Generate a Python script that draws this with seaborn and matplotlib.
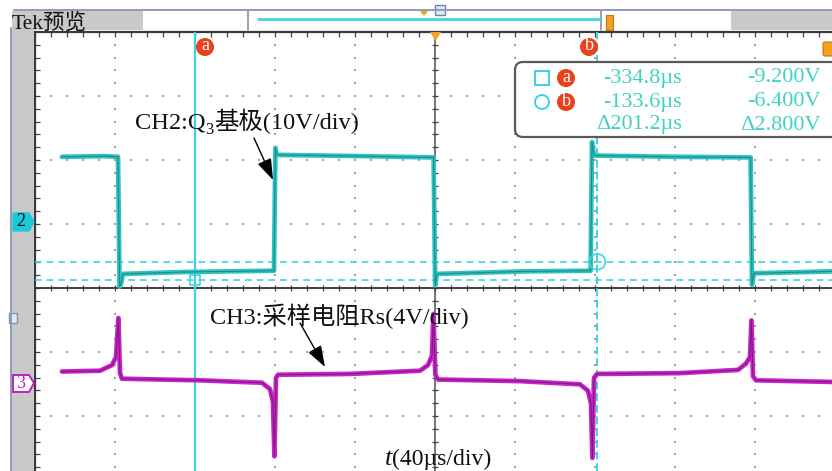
import numpy as np
import matplotlib
matplotlib.use('Agg')
import matplotlib.pyplot as plt
import matplotlib.patches as mpatches
import seaborn as sns

# scope settings: 40us/div, screen centre sits at -214.8us
t_center = -214.8
us_per_div = 40
t_left, t_right = -414.8, -16.3

# CH2: Q3 base voltage (V), 10V/div
ch2_t = [-401.3, -380.0, -373.3, -372.5, -371.8, -370.8, -340.0, -295.3, -294.6, -293.8,
         -250.0, -215.5, -214.7, -213.8, -170.0, -137.0, -136.3, -135.3, -95.0, -57.0,
         -56.3, -55.3, -16.3]
ch2_v = [10.0, 10.1, 10.0, -10.3, -9.8, -8.3, -8.0, -7.8, 11.4, 10.3,
         10.1, 9.9, -10.1, -8.3, -7.9, -7.8, 12.3, 10.2, 10.0, 9.9,
         -10.0, -8.2, -7.9]

# CH3: sense resistor Rs (V), 4V/div
ch3_t = [-401.3, -382.3, -376.3, -374.3, -373.1, -372.3, -371.3, -332.3, -301.3, -297.3,
         -295.8, -295.1, -294.3, -293.3, -257.3, -222.3, -218.3, -216.3, -215.6, -214.6,
         -213.3, -172.3, -142.3, -138.3, -136.8, -136.1, -135.3, -133.8, -92.3, -63.3,
         -59.3, -57.3, -56.6, -55.8, -54.3, -16.3]
ch3_v = [0.7, 0.75, 1.1, 1.6, 4.05, 0.6, 0.25, 0.15, 0.0, -0.4,
         -1.2, -4.6, 0.3, 0.5, 0.55, 0.75, 1.1, 1.7, 4.3, 0.5,
         0.2, 0.1, -0.1, -0.5, -1.3, -4.7, 0.3, 0.55, 0.6, 0.8,
         1.2, 1.6, 3.9, 0.4, 0.15, 0.05]

ch2_scale, ch2_offset = 10, 1.05
ch3_scale, ch3_offset = 4, -1.48

cursor_t = [-334.8, -133.6]
cursor_v = [-9.2, -6.4]
cursor_names = ['a', 'b']

sns.set_style('white')
plt.rcParams['font.family'] = ['Liberation Serif', 'Noto Sans CJK SC']

W, H = 832, 471
fig = plt.figure(figsize=(W / 100, H / 100), dpi=100)
ax = fig.add_axes([35 / W, 0, 1 - 35 / W, (H - 32) / H])
ax.set_xlim(t_left, t_right)
ax.set_ylim(-(H - 288) / 64, 4)

ch2_div = np.array(ch2_v) / ch2_scale + ch2_offset
ch3_div = np.array(ch3_v) / ch3_scale + ch3_offset

# graticule
dot_col = '#a0a0a0'
gx = t_center + us_per_div * np.array([-4, -3, -2, -1, 1, 2, 3, 4])
ys = np.arange(-2.8, 4.0, 0.2)
for x in gx:
    ax.scatter(np.full(len(ys), x), ys, marker='s', s=1.6, color=dot_col, lw=0, zorder=1)
xs = np.arange(t_center - 5 * us_per_div + 8, t_right, 8)
for y in [-2, -1, 1, 2, 3]:
    ax.scatter(xs, np.full(len(xs), y), marker='s', s=1.6, color=dot_col, lw=0, zorder=1)
ax.axhline(0, color='#303030', lw=1.3, zorder=2)
ax.axvline(t_center, color='#505050', lw=1.1, zorder=2)
ax.scatter(xs, np.zeros(len(xs)), marker='|', s=22, color='#404040', lw=0.9, zorder=2)
ax.scatter(np.full(len(ys), t_center), ys, marker='_', s=22, color='#404040', lw=0.9, zorder=2)

ax.xaxis.tick_top()
ax.set_xticks(np.arange(t_center - 5 * us_per_div, t_right, 8))
ax.set_yticks(ys)
ax.tick_params(axis='x', direction='in', length=3.5, width=0.9, color='#404040',
               top=True, bottom=False, labeltop=False, labelbottom=False)
ax.tick_params(axis='y', direction='in', length=3.5, width=0.9, color='#404040',
               left=True, labelleft=False)
for s in ['bottom', 'right']:
    ax.spines[s].set_visible(False)
for s in ['left', 'top']:
    ax.spines[s].set_color('#3a3a3a')
    ax.spines[s].set_linewidth(1.6)

# cursors
cur_col = '#3cd4e4'
ax.axvline(cursor_t[0], color=cur_col, lw=1.6, zorder=3)
ax.axvline(cursor_t[1], color=cur_col, lw=1.4, ls=(0, (4, 2)), zorder=3)
cur_div = [v / ch2_scale + ch2_offset for v in cursor_v]
for d in cur_div:
    ax.axhline(d, color=cur_col, lw=1.2, ls=(0, (4, 3)), zorder=3)

# traces
sns.lineplot(x=ch2_t, y=ch2_div, ax=ax, color='#2ec3c0', linewidth=3.4, sort=False,
             estimator=None, zorder=5)
sns.lineplot(x=ch2_t, y=ch2_div, ax=ax, color='#1a8d8c', linewidth=0.8, sort=False,
             estimator=None, zorder=6)
sns.lineplot(x=ch3_t, y=ch3_div, ax=ax, color='#c824c8', linewidth=3.4, sort=False,
             estimator=None, zorder=5)
sns.lineplot(x=ch3_t, y=ch3_div, ax=ax, color='#7c1a80', linewidth=0.8, sort=False,
             estimator=None, zorder=6)

ax.scatter([cursor_t[0]], [cur_div[0]], marker='s', s=50, facecolor='none',
           edgecolor=cur_col, lw=1.2, zorder=7)
ax.scatter([cursor_t[1]], [cur_div[1]], marker='o', s=130, facecolor='none',
           edgecolor=cur_col, lw=1.2, zorder=7)

# ---- overlay: scope frame, markers, readout and annotations (pixel coords)
ov = fig.add_axes([0, 0, 1, 1], zorder=10)
ov.set_xlim(0, W)
ov.set_ylim(H, 0)
ov.axis('off')
ov.patch.set_alpha(0)
renderer = fig.canvas.get_renderer()


def put_pieces(x, y, pieces):
    # write text pieces one after another on a shared baseline
    for s, dy, fs, style in pieces:
        t = ov.text(x, y + dy, s, fontsize=fs, style=style, color='#111111',
                    ha='left', va='baseline')
        x += t.get_window_extent(renderer).width


frame_col = '#8c9cbc'
gray = '#c9c9c9'
orange = '#f2a21e'
red = '#e8411c'

ov.plot([14, W], [10, 10], color=frame_col, lw=1.4)
ov.plot([11, 11], [28, H], color=frame_col, lw=1.4)
ov.add_patch(mpatches.Rectangle((12, 11), 131, 19, color=gray, lw=0))
ov.add_patch(mpatches.Rectangle((731, 11), W - 731, 19, color=gray, lw=0))
ov.add_patch(mpatches.Rectangle((12, 30), 22, H - 30, color=gray, lw=0))
ov.plot([248, 248], [11, 30], color='#909090', lw=1.2)
ov.plot([601, 601], [11, 30], color='#909090', lw=1.2)
ov.plot([258, 600], [19, 19], color='#44d2ea', lw=2.0)
ov.add_patch(mpatches.Rectangle((435, 5), 10, 10, facecolor='#dcecf6', edgecolor='#6c88a8', lw=1))
ov.add_patch(mpatches.Polygon([(420, 11), (428, 11), (424, 16)], color=orange, lw=0))
ov.add_patch(mpatches.Rectangle((606, 15), 7, 15, facecolor=orange, edgecolor='#c07810', lw=0.8))
ov.text(12, 29, 'Tek预览', fontsize=15.5, color='#111111', ha='left', va='baseline')

# trigger position / level markers
ov.add_patch(mpatches.Polygon([(430, 32), (441, 32), (435.5, 41)], color=orange, lw=0))
ov.add_patch(mpatches.FancyBboxPatch((823, 42), 12, 14, boxstyle='round,pad=0,rounding_size=2',
                                     facecolor=orange, edgecolor='#c07810', lw=0.8))

# channel markers on the left strip
ov.add_patch(mpatches.Polygon([(13, 213), (29, 213), (34, 222), (29, 231), (13, 231)],
                              facecolor='#1ec8d8', edgecolor='#1ec8d8', lw=1))
ov.text(21, 222, '2', fontsize=13, color='#111111', ha='center', va='center')
ov.add_patch(mpatches.Polygon([(13, 375), (29, 375), (34, 383), (29, 392), (13, 392)],
                              facecolor='white', edgecolor='#c020c0', lw=1.4))
ov.text(21, 383.5, '3', fontsize=13, color='#c020c0', ha='center', va='center')
ov.add_patch(mpatches.Rectangle((9, 313), 8, 10, facecolor='#dcecf8', edgecolor='#7896b4', lw=1))

# cursor labels at top of the screen
for cx, name in zip([205, 589], cursor_names):
    ov.add_patch(mpatches.Circle((cx, 47), 9, color=red, lw=0))
    ov.text(cx, 46, name, fontsize=13, color='white', ha='center', va='center')

# cursor readout box
txt_col = '#40d2c2'
ov.add_patch(mpatches.FancyBboxPatch((515, 62), 340, 75, boxstyle='round,pad=0,rounding_size=8',
                                     facecolor='white', edgecolor='#5a5a5a', lw=1.6))
row_y = [78, 102, 125]
ov.add_patch(mpatches.Rectangle((535, 71), 14, 14, facecolor='none', edgecolor=cur_col, lw=1.4))
ov.add_patch(mpatches.Circle((542, 102), 7, facecolor='none', edgecolor=cur_col, lw=1.4))
for y, name in zip(row_y[:2], cursor_names):
    ov.add_patch(mpatches.Circle((566, y), 9, color=red, lw=0))
    ov.text(566, y - 1, name, fontsize=13, color='white', ha='center', va='center')
for y, t, v in zip(row_y[:2], cursor_t, cursor_v):
    ov.text(682, y, f'{t:.1f}µs', fontsize=16, color=txt_col, ha='right', va='center')
    ov.text(821, y, f'{v:.3f}V', fontsize=16, color=txt_col, ha='right', va='center')
ov.text(682, row_y[2], f'Δ{cursor_t[1] - cursor_t[0]:.1f}µs', fontsize=16, color=txt_col,
        ha='right', va='center')
ov.text(821, row_y[2], f'Δ{cursor_v[1] - cursor_v[0]:.3f}V', fontsize=16, color=txt_col,
        ha='right', va='center')

# channel annotations
arrow = dict(arrowstyle='-|>,head_length=1.3,head_width=0.45', lw=1.0, color='black',
             shrinkA=0, shrinkB=0)
put_pieces(135, 129, [('CH2:Q', 0, 17.6, 'normal'), ('3', 5, 12, 'normal'),
                      ('基极(10V/div)', 0, 17.6, 'normal')])
ov.annotate('', xy=(273, 180), xytext=(254, 138), arrowprops=arrow)
put_pieces(210, 324, [('CH3:采样电阻Rs(4V/div)', 0, 17.5, 'normal')])
ov.annotate('', xy=(325, 367), xytext=(300, 323), arrowprops=arrow)
put_pieces(385, 465, [('t', 0, 19, 'italic'), ('(40µs/div)', 0, 17, 'normal')])

fig.savefig('out.png', dpi=100)
